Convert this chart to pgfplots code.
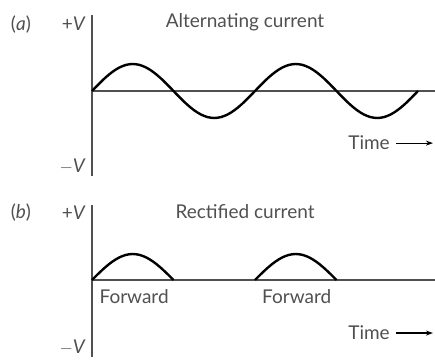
\documentclass[border=0pt]{standalone}
\usepackage{fontspec}
\setmainfont{Lato}
\usepackage{pgfplots}
\pgfplotsset{compat=1.18}
\usetikzlibrary{arrows.meta}
\definecolor{axgray}{HTML}{505050}
\definecolor{txtgray}{HTML}{505050}
\begin{document}
\fontsize{19}{22}\selectfont
\begin{tikzpicture}
\useasboundingbox (0pt,0pt) rectangle (435pt,359pt);
\pgfplotsset{
  panel/.style={
    x=0.45278pt, anchor=origin, clip=false,
    axis lines=middle, axis line style={axgray, line width=1.3pt, -},
    xmin=0, xmax=757.5,
    xtick=\empty, major tick length=0pt,
    yticklabel style={anchor=east, text=txtgray, font=\fontsize{19}{22}\selectfont, inner sep=0pt, xshift=-6pt},
  },
  wave/.style={black, no markers, line width=2.4pt, smooth},
}
% ---------- (a) ----------
\begin{axis}[panel, y=27pt, at={(92pt,268pt)},
  ymin=-3.148, ymax=2.815,
  ytick={-2.81,0,2.48}, yticklabels={$-$\textit{V}, \textit{O}, +\textit{V}}]
\addplot[wave] coordinates {
(0,0) (15,0.2588) (30,0.5) (45,0.7071) (60,0.8660) (75,0.9659) (90,1)
(105,0.9659) (120,0.8660) (135,0.7071) (150,0.5) (165,0.2588) (180,0)
(195,-0.2588) (210,-0.5) (225,-0.7071) (240,-0.8660) (255,-0.9659) (270,-1)
(285,-0.9659) (300,-0.8660) (315,-0.7071) (330,-0.5) (345,-0.2588) (360,0)
(375,0.2588) (390,0.5) (405,0.7071) (420,0.8660) (435,0.9659) (450,1)
(465,0.9659) (480,0.8660) (495,0.7071) (510,0.5) (525,0.2588) (540,0)
(555,-0.2588) (570,-0.5) (585,-0.7071) (600,-0.8660) (615,-0.9659) (630,-1)
(645,-0.9659) (660,-0.8660) (675,-0.7071) (690,-0.5) (705,-0.2588) (720,0)
};
\node[text=txtgray] at (axis cs:-157,2.48) {(\textit{a})};
\node[text=txtgray] at (axis cs:338,2.56) {Alternating current};
\node[text=txtgray, anchor=east, inner sep=0pt] at (axis cs:658,-1.93) {Time};
\draw[black, line width=1.1pt, -{Stealth[length=7pt,width=5pt]}] (axis cs:672,-1.93) -- (axis cs:753,-1.93);
\end{axis}
% ---------- (b) ----------
\begin{axis}[panel, y=26pt, at={(92pt,79pt)},
  ymin=-2.96, ymax=2.885,
  ytick={-2.6,0,2.58}, yticklabels={$-$\textit{V}, \textit{O}, +\textit{V}}]
\addplot[wave] coordinates {
(0,0) (15,0.2588) (30,0.5) (45,0.7071) (60,0.8660) (75,0.9659) (90,1)
(105,0.9659) (120,0.8660) (135,0.7071) (150,0.5) (165,0.2588) (180,0)
};
\addplot[wave] coordinates {
(360,0) (375,0.2588) (390,0.5) (405,0.7071) (420,0.8660) (435,0.9659) (450,1)
(465,0.9659) (480,0.8660) (495,0.7071) (510,0.5) (525,0.2588) (540,0)
};
\node[text=txtgray] at (axis cs:-157,2.58) {(\textit{b})};
\node[text=txtgray] at (axis cs:338,2.62) {Rectified current};
\node[text=txtgray] at (axis cs:93,-0.65) {Forward};
\node[text=txtgray] at (axis cs:452,-0.65) {Forward};
\node[text=txtgray, anchor=east, inner sep=0pt] at (axis cs:658,-2.04) {Time};
\draw[black, line width=1.1pt, -{Stealth[length=7pt,width=5pt]}] (axis cs:672,-2.04) -- (axis cs:753,-2.04);
\end{axis}
\end{tikzpicture}
\end{document}
